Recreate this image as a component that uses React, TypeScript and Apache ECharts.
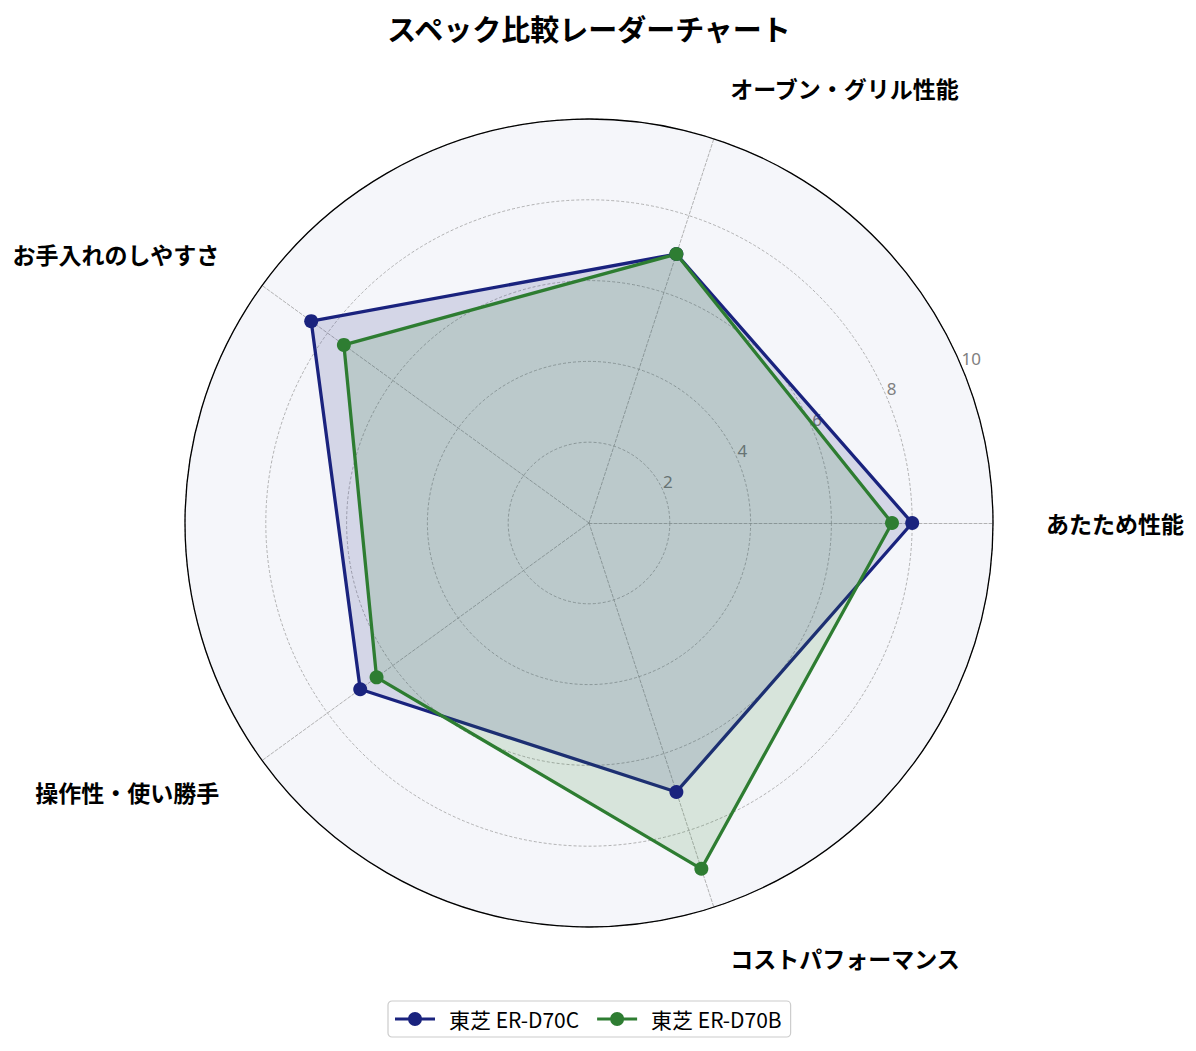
import React, { useEffect, useRef } from "react";
import * as echarts from "echarts";

const categories = [
  "あたため性能",
  "オーブン・グリル性能",
  "お手入れのしやすさ",
  "操作性・使い勝手",
  "コストパフォーマンス",
];
const seriesNames = ["東芝 ER-D70C", "東芝 ER-D70B"];
const d70cValues = [8, 7, 8.5, 7, 7];
const d70bValues = [7.5, 7, 7.5, 6.5, 9];
const seriesColors = ["#1a237e", "#2e7d32"];

const FONT = '"Noto Sans CJK JP", "Noto Sans", sans-serif';
const CENTER = [589, 523];
const RADIUS = 404;

// line + dot legend marker
const legendIcon =
  "path://M0,5.5L40,5.5L40,8.5L0,8.5Z M27,7A7,7 0 1 1 13,7A7,7 0 1 1 27,7Z";

const App: React.FC = () => {
  const chartRef = useRef<HTMLDivElement>(null);

  useEffect(() => {
    if (!chartRef.current) return;
    const chart = echarts.init(chartRef.current, undefined, { renderer: "svg" });

    const makeSeries = (name: string, values: number[], color: string) => ({
      type: "radar",
      name,
      z: 2,
      symbol: "circle",
      symbolSize: 14,
      lineStyle: { width: 3.3, color },
      itemStyle: { color },
      areaStyle: { color, opacity: 0.15 },
      data: [{ name, value: values }],
    });

    chart.setOption({
      animation: false,
      backgroundColor: "#ffffff",
      title: {
        text: "スペック比較レーダーチャート",
        left: CENTER[0],
        textAlign: "center",
        top: 8,
        padding: 0,
        textStyle: {
          fontFamily: FONT,
          fontSize: 29,
          fontWeight: "bold",
          color: "#000",
          lineHeight: 40,
        },
      },
      legend: {
        data: seriesNames,
        left: 388,
        top: 1001,
        padding: [7, 9, 7, 7],
        icon: legendIcon,
        itemWidth: 40,
        itemHeight: 14,
        itemGap: 18,
        borderColor: "#cccccc",
        borderWidth: 1.2,
        borderRadius: 4,
        textStyle: {
          fontFamily: FONT,
          fontSize: 21,
          lineHeight: 22,
          color: "#000",
          padding: [0, 0, 0, 9],
        },
      },
      radar: {
        center: CENTER,
        radius: RADIUS,
        startAngle: 0,
        shape: "circle",
        splitNumber: 5,
        z: 0,
        nameGap: 53,
        indicator: categories.map((name) => ({ name, min: 0, max: 10 })),
        axisName: {
          color: "#000",
          fontFamily: FONT,
          fontSize: 23,
          fontWeight: "bold",
        },
        axisLine: {
          lineStyle: { color: "#a0a0a0", type: [3, 2], width: 0.8 },
        },
        splitLine: {
          lineStyle: { color: "#a0a0a0", type: [3, 2], width: 0.8 },
        },
        splitArea: { show: true, areaStyle: { color: ["#f5f6fa"] } },
      },
      polar: { center: CENTER, radius: RADIUS },
      angleAxis: {
        type: "value",
        min: 0,
        max: 360,
        startAngle: 22.5,
        z: 3,
        axisLine: { lineStyle: { color: "#000", width: 1.3 } },
        axisTick: { show: false },
        axisLabel: { show: false },
        splitLine: { show: false },
      },
      radiusAxis: {
        type: "value",
        min: 0,
        max: 10,
        interval: 2,
        z: 1,
        axisLine: { show: false },
        axisTick: { show: false },
        splitLine: { show: false },
        axisLabel: {
          showMinLabel: false,
          color: "#808080",
          fontFamily: '"Noto Sans", sans-serif',
          fontSize: 17,
          margin: 2,
          align: "left",
          verticalAlign: "bottom",
        },
      },
      series: [
        makeSeries(seriesNames[0], d70cValues, seriesColors[0]),
        makeSeries(seriesNames[1], d70bValues, seriesColors[1]),
      ],
    });

    return () => chart.dispose();
  }, []);

  return (
    <div
      ref={chartRef}
      style={{ position: "fixed", left: 0, top: 0, width: "100vw", height: "100vh" }}
    />
  );
};

export default App;
